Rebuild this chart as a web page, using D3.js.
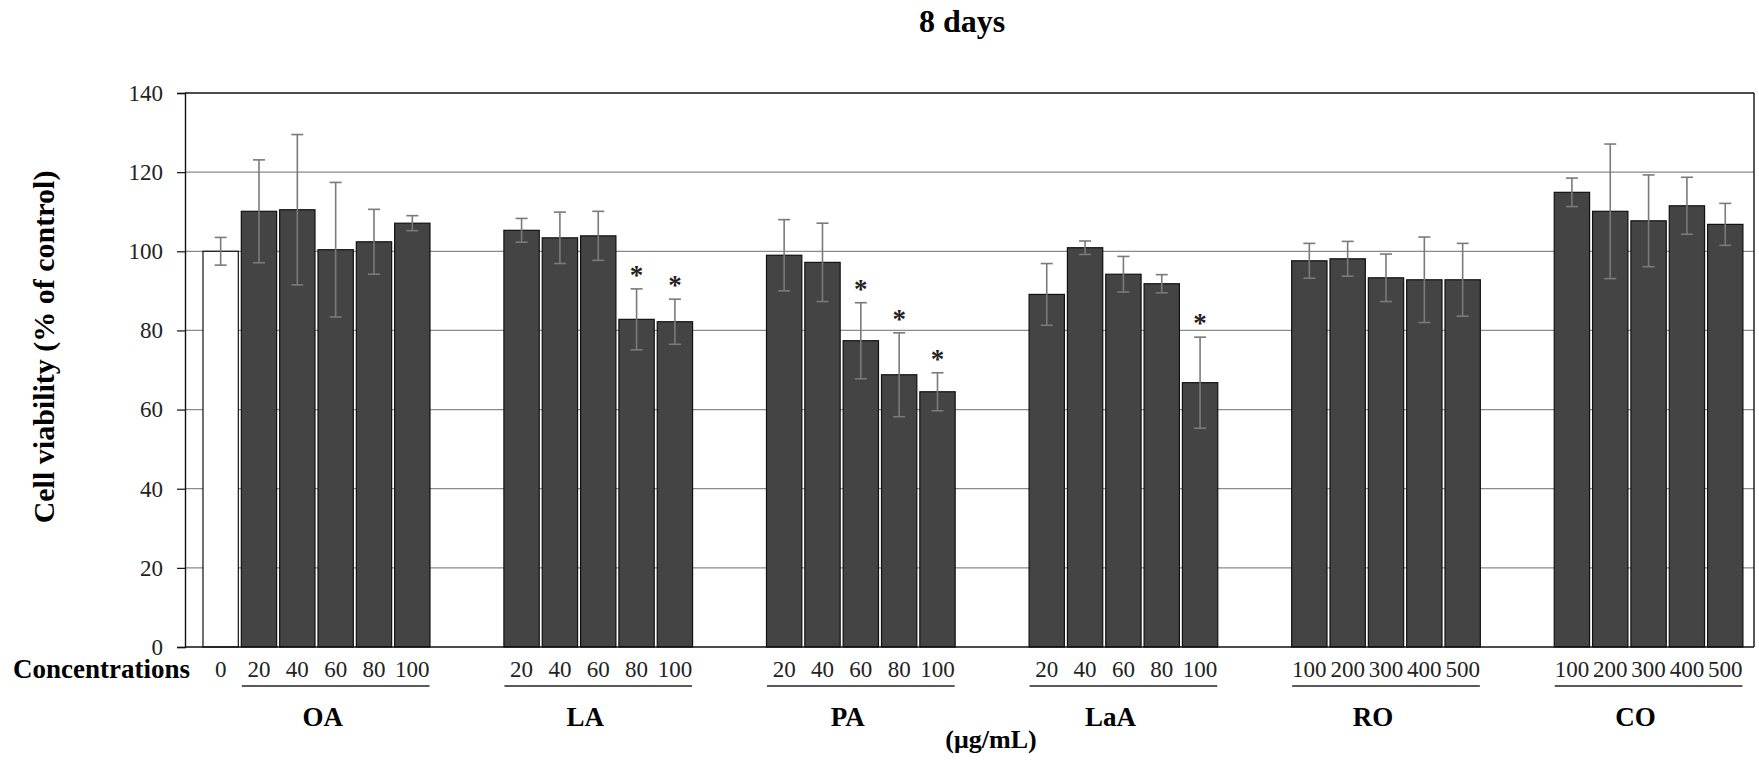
<!DOCTYPE html>
<html>
<head>
<meta charset="utf-8">
<script src="https://cdn.jsdelivr.net/npm/d3@7"></script>
<style>
  body { margin: 0; background: #fff; }
  text { font-family: "Liberation Serif", "Times New Roman", serif; }
</style>
</head>
<body>
<script>
var width = 1759,
    height = 760;

// values
var groupNames = ["OA", "LA", "PA", "LaA", "RO", "CO"];
var doseLabels = [
  ["20", "40", "60", "80", "100"],
  ["20", "40", "60", "80", "100"],
  ["20", "40", "60", "80", "100"],
  ["20", "40", "60", "80", "100"],
  ["100", "200", "300", "400", "500"],
  ["100", "200", "300", "400", "500"]
];
var means = [
  [110.1, 110.5, 100.4, 102.4, 107.1],
  [105.3, 103.4, 103.9, 82.8, 82.2],
  [99.0, 97.2, 77.4, 68.8, 64.5],
  [89.1, 100.9, 94.2, 91.8, 66.8],
  [97.6, 98.1, 93.3, 92.8, 92.8],
  [114.9, 110.1, 107.7, 111.5, 106.8]
];
var errors = [
  [13.0, 19.0, 17.0, 8.2, 1.9],
  [3.0, 6.5, 6.2, 7.7, 5.7],
  [9.0, 9.9, 9.6, 10.6, 4.8],
  [7.8, 1.7, 4.5, 2.3, 11.5],
  [4.4, 4.4, 6.0, 10.8, 9.2],
  [3.6, 17.0, 11.6, 7.2, 5.3]
];
var stars = [
  [0, 0, 0, 0, 0],
  [0, 0, 0, 1, 1],
  [0, 0, 1, 1, 1],
  [0, 0, 0, 0, 1],
  [0, 0, 0, 0, 0],
  [0, 0, 0, 0, 0]
];
var controlLabel = "0", controlMean = 100, controlError = 3.5;
var yTicks = [0, 20, 40, 60, 80, 100, 120, 140];

// gap between groups, in bar slots
var gapSlots = 1.85;

var bars = [{label: controlLabel, mean: controlMean, err: controlError, star: 0, group: -1, pos: 0}];
groupNames.forEach(function(g, gi){
  means[gi].forEach(function(m, i){
    bars.push({
      label: doseLabels[gi][i], mean: m, err: errors[gi][i], star: stars[gi][i],
      group: gi, pos: 1 + gi * 5 + i + gi * gapSlots
    });
  });
});
var lastPos = d3.max(bars, function(d){ return d.pos; }) + 1;

var plotLeft = 185, plotRight = 1754, plotTop = 93, plotBottom = 647;

var x = d3.scaleLinear()
    .domain([-0.43, lastPos + 0.25])
    .range([plotLeft, plotRight]);

var y = d3.scaleLinear()
    .domain([0, 140])
    .range([plotBottom, plotTop]);

var svg = d3.select("body").append("svg")
    .attr("width", width)
    .attr("height", height);

// title
svg.append("text")
  .attr("x", 962).attr("y", 32)
  .attr("text-anchor", "middle")
  .style("font-size", "32px").style("font-weight", "bold")
  .text("8 days");

// grid
svg.append("g")
  .selectAll("line")
  .data(yTicks.filter(function(t){ return t > 0 && t < 140; }))
  .enter().append("line")
  .attr("x1", plotLeft).attr("x2", plotRight)
  .attr("y1", function(d){ return y(d); })
  .attr("y2", function(d){ return y(d); })
  .attr("stroke", "#8a8a8a")
  .attr("stroke-width", 1.2);

// frame top / right
svg.append("line")
  .attr("x1", plotLeft).attr("x2", plotRight).attr("y1", y(140)).attr("y2", y(140))
  .attr("stroke", "#111").attr("stroke-width", 1.4);
svg.append("line")
  .attr("x1", plotRight).attr("x2", plotRight).attr("y1", y(140)).attr("y2", y(0))
  .attr("stroke", "#111").attr("stroke-width", 1.4);

// bars
var bw = x(1) - x(0);
svg.append("g")
  .selectAll("rect")
  .data(bars)
  .enter().append("rect")
  .attr("x", function(d){ return x(d.pos) + 1.5; })
  .attr("width", bw - 3)
  .attr("y", function(d){ return y(d.mean); })
  .attr("height", function(d){ return y(0) - y(d.mean); })
  .attr("fill", function(d){ return d.group < 0 ? "#fff" : "#444"; })
  .attr("stroke", "#111")
  .attr("stroke-width", 1.2);

// error bars
var eb = svg.append("g")
  .attr("stroke", "#7a7a7a")
  .attr("stroke-width", 1.6);
bars.forEach(function(d){
  var cx = x(d.pos + 0.5);
  eb.append("line")
    .attr("x1", cx).attr("x2", cx)
    .attr("y1", y(d.mean + d.err)).attr("y2", y(d.mean - d.err));
  [d.mean + d.err, d.mean - d.err].forEach(function(v){
    eb.append("line")
      .attr("x1", cx - 6).attr("x2", cx + 6)
      .attr("y1", y(v)).attr("y2", y(v));
  });
});

// significance stars
svg.append("g")
  .selectAll("text")
  .data(bars.filter(function(d){ return d.star; }))
  .enter().append("text")
  .attr("x", function(d){ return x(d.pos + 0.5); })
  .attr("y", function(d){ return y(d.mean + d.err) - 5; })
  .attr("text-anchor", "middle")
  .style("font-size", "27px").style("font-weight", "bold")
  .attr("fill", "#222")
  .text("*");

// y axis
var yAxis = d3.axisLeft(y)
  .tickValues(yTicks)
  .tickSize(8)
  .tickPadding(14);
var ya = svg.append("g")
  .attr("transform", "translate(" + plotLeft + ",0)")
  .call(yAxis);
ya.select(".domain").attr("stroke", "#111").attr("stroke-width", 1.4);
ya.selectAll(".tick line").attr("stroke", "#111").attr("stroke-width", 1.2);
ya.selectAll(".tick text")
  .style("font-size", "23px")
  .style("font-family", "'Liberation Serif', 'Times New Roman', serif")
  .attr("fill", "#222");

// x baseline
svg.append("line")
  .attr("x1", plotLeft).attr("x2", plotRight).attr("y1", y(0)).attr("y2", y(0))
  .attr("stroke", "#111").attr("stroke-width", 1.6);

// y title
svg.append("text")
  .attr("transform", "translate(54,347) rotate(-90)")
  .attr("text-anchor", "middle")
  .style("font-size", "30px").style("font-weight", "bold")
  .text("Cell viability (% of control)");

// concentration labels
svg.append("text")
  .attr("x", 13).attr("y", 678)
  .style("font-size", "27px").style("font-weight", "bold")
  .text("Concentrations");

svg.append("g")
  .selectAll("text")
  .data(bars)
  .enter().append("text")
  .attr("x", function(d){ return x(d.pos + 0.5); })
  .attr("y", 677)
  .attr("text-anchor", "middle")
  .style("font-size", "23px")
  .attr("fill", "#222")
  .text(function(d){ return d.label; });

// group underline + name
groupNames.forEach(function(g, gi){
  var gb = bars.filter(function(d){ return d.group === gi; });
  var x0 = x(gb[0].pos) + 2, x1 = x(gb[gb.length - 1].pos + 1) - 2;
  svg.append("line")
    .attr("x1", x0).attr("x2", x1).attr("y1", 686).attr("y2", 686)
    .attr("stroke", "#222").attr("stroke-width", 1.6);
  svg.append("text")
    .attr("x", (x0 + x1) / 2 - 13).attr("y", 726)
    .attr("text-anchor", "middle")
    .style("font-size", "27px").style("font-weight", "bold")
    .text(g);
});

svg.append("text")
  .attr("x", 991).attr("y", 748)
  .attr("text-anchor", "middle")
  .style("font-size", "26px").style("font-weight", "bold")
  .text("(μg/mL)");
</script>
</body>
</html>
